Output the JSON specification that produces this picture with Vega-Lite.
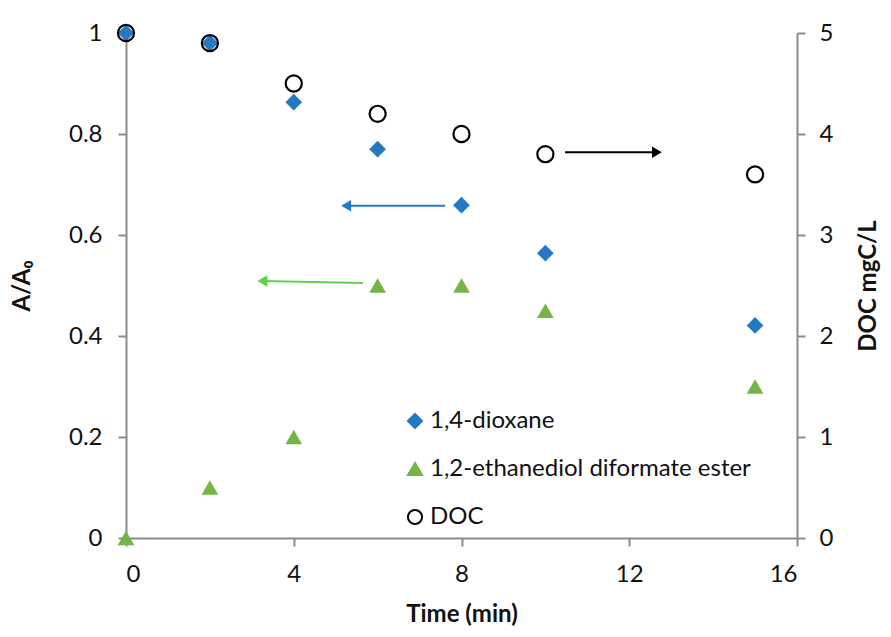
{
  "$schema": "https://vega.github.io/schema/vega-lite/v6.json",
  "width": 671,
  "height": 505,
  "autosize": "none",
  "padding": {"left": 126, "top": 33, "right": 94, "bottom": 99},
  "background": "white",
  "config": {
    "font": "Lato",
    "view": {"stroke": null},
    "axis": {
      "grid": false,
      "domainColor": "#8c8c8c",
      "domainWidth": 2,
      "tickColor": "#8c8c8c",
      "tickWidth": 2,
      "tickSize": 8,
      "labelFont": "Lato",
      "labelFontSize": 24,
      "labelColor": "#111111",
      "titleFont": "Lato",
      "titleFontSize": 24,
      "titleFontWeight": "bold",
      "titleColor": "#111111"
    },
    "legend": {
      "labelFont": "Lato",
      "labelFontSize": 24,
      "labelColor": "#111111",
      "labelLimit": 0,
      "symbolSize": 200,
      "symbolStrokeWidth": 2,
      "rowPadding": 24,
      "labelOffset": 3
    }
  },
  "datasets": {
    "ratio": [
      {"series": "1,4-dioxane", "time": 0, "value": 1.0},
      {"series": "1,4-dioxane", "time": 2, "value": 0.98},
      {"series": "1,4-dioxane", "time": 4, "value": 0.863},
      {"series": "1,4-dioxane", "time": 6, "value": 0.77},
      {"series": "1,4-dioxane", "time": 8, "value": 0.659},
      {"series": "1,4-dioxane", "time": 10, "value": 0.564},
      {"series": "1,4-dioxane", "time": 15, "value": 0.421},
      {"series": "1,2-ethanediol diformate ester", "time": 0, "value": 0.0},
      {"series": "1,2-ethanediol diformate ester", "time": 2, "value": 0.1},
      {"series": "1,2-ethanediol diformate ester", "time": 4, "value": 0.2},
      {"series": "1,2-ethanediol diformate ester", "time": 6, "value": 0.5},
      {"series": "1,2-ethanediol diformate ester", "time": 8, "value": 0.5},
      {"series": "1,2-ethanediol diformate ester", "time": 10, "value": 0.45},
      {"series": "1,2-ethanediol diformate ester", "time": 15, "value": 0.3}
    ],
    "doc": [
      {"series": "DOC", "time": 0, "doc": 5.0},
      {"series": "DOC", "time": 2, "doc": 4.9},
      {"series": "DOC", "time": 4, "doc": 4.5},
      {"series": "DOC", "time": 6, "doc": 4.2},
      {"series": "DOC", "time": 8, "doc": 4.0},
      {"series": "DOC", "time": 10, "doc": 3.8},
      {"series": "DOC", "time": 15, "doc": 3.6}
    ],
    "leftArrows": [
      {"arrow": "dioxane", "xStart": 7.61, "xEnd": 5.25, "yStart": 0.658, "yEnd": 0.658},
      {"arrow": "ester", "xStart": 5.65, "xEnd": 3.25, "yStart": 0.505, "yEnd": 0.509}
    ],
    "rightArrows": [
      {"arrow": "DOC", "xStart": 10.47, "xEnd": 12.66, "yStart": 3.82, "yEnd": 3.82}
    ]
  },
  "layer": [
    {
      "layer": [
        {
          "data": {"name": "ratio"},
          "mark": {"type": "point", "filled": true, "strokeWidth": 0, "opacity": 1},
          "encoding": {
            "x": {"field": "time", "type": "quantitative", "scale": {"domain": [0, 16], "nice": false},
                  "axis": {"values": [0, 4, 8, 12, 16], "title": "Time (min)", "labelPadding": 16, "titlePadding": 16}},
            "y": {"field": "value", "type": "quantitative", "scale": {"domain": [0, 1], "nice": false},
                  "axis": {"orient": "left", "values": [0, 0.2, 0.4, 0.6, 0.8, 1], "format": "~g", "title": "A/A₀", "labelPadding": 16, "titlePadding": 34}},
            "shape": {"field": "series", "type": "nominal",
                      "scale": {"domain": ["1,4-dioxane", "1,2-ethanediol diformate ester", "DOC"], "range": ["diamond", "triangle-up", "circle"]},
                      "legend": {"title": null, "orient": "none", "legendX": 277, "legendY": 376}},
            "fill": {"field": "series", "type": "nominal",
                     "scale": {"domain": ["1,4-dioxane", "1,2-ethanediol diformate ester", "DOC"], "range": ["#2479c1", "#77b446", "transparent"]},
                     "legend": {"title": null, "orient": "none", "legendX": 277, "legendY": 376}},
            "stroke": {"field": "series", "type": "nominal",
                     "scale": {"domain": ["1,4-dioxane", "1,2-ethanediol diformate ester", "DOC"], "range": ["#2479c1", "#77b446", "#000000"]},
                     "legend": {"title": null, "orient": "none", "legendX": 277, "legendY": 376}},
            "size": {"value": 280}
          }
        },
        {
          "data": {"name": "leftArrows"},
          "mark": {"type": "rule", "strokeWidth": 2},
          "encoding": {
            "x": {"field": "xStart", "type": "quantitative"},
            "x2": {"field": "xEnd"},
            "y": {"field": "yStart", "type": "quantitative"},
            "y2": {"field": "yEnd"},
            "color": {"field": "arrow", "type": "nominal", "scale": {"domain": ["dioxane", "ester"], "range": ["#1f7ac8", "#5fd24a"]}, "legend": null}
          }
        },
        {
          "data": {"name": "leftArrows"},
          "mark": {"type": "point", "shape": "triangle-left", "filled": true, "size": 130, "opacity": 1},
          "encoding": {
            "x": {"field": "xEnd", "type": "quantitative"},
            "y": {"field": "yEnd", "type": "quantitative"},
            "color": {"field": "arrow", "type": "nominal", "scale": {"domain": ["dioxane", "ester"], "range": ["#1f7ac8", "#5fd24a"]}, "legend": null}
          }
        }
      ]
    },
    {
      "layer": [
        {
          "data": {"name": "doc"},
          "mark": {"type": "point", "filled": true, "strokeWidth": 2.2, "opacity": 1},
          "encoding": {
            "x": {"field": "time", "type": "quantitative", "scale": {"domain": [0, 16], "nice": false},
                  "axis": {"values": [0, 4, 8, 12, 16], "title": "Time (min)", "labelPadding": 16, "titlePadding": 16}},
            "y": {"field": "doc", "type": "quantitative", "scale": {"domain": [0, 5], "nice": false},
                  "axis": {"orient": "right", "values": [0, 1, 2, 3, 4, 5], "format": "d", "title": "DOC mgC/L", "titleAngle": 270, "labelPadding": 14, "titlePadding": 48}},
            "shape": {"field": "series", "type": "nominal",
                      "scale": {"domain": ["1,4-dioxane", "1,2-ethanediol diformate ester", "DOC"], "range": ["diamond", "triangle-up", "circle"]},
                      "legend": {"title": null, "orient": "none", "legendX": 277, "legendY": 376}},
            "fill": {"field": "series", "type": "nominal",
                     "scale": {"domain": ["1,4-dioxane", "1,2-ethanediol diformate ester", "DOC"], "range": ["#2479c1", "#77b446", "transparent"]},
                     "legend": {"title": null, "orient": "none", "legendX": 277, "legendY": 376}},
            "stroke": {"field": "series", "type": "nominal",
                     "scale": {"domain": ["1,4-dioxane", "1,2-ethanediol diformate ester", "DOC"], "range": ["#2479c1", "#77b446", "#000000"]},
                     "legend": {"title": null, "orient": "none", "legendX": 277, "legendY": 376}},
            "size": {"value": 260}
          }
        },
        {
          "data": {"name": "rightArrows"},
          "mark": {"type": "rule", "strokeWidth": 2, "color": "#000000"},
          "encoding": {
            "x": {"field": "xStart", "type": "quantitative"},
            "x2": {"field": "xEnd"},
            "y": {"field": "yStart", "type": "quantitative"},
            "y2": {"field": "yEnd"}
          }
        },
        {
          "data": {"name": "rightArrows"},
          "mark": {"type": "point", "shape": "triangle-right", "filled": true, "size": 130, "color": "#000000", "opacity": 1},
          "encoding": {
            "x": {"field": "xEnd", "type": "quantitative"},
            "y": {"field": "yEnd", "type": "quantitative"}
          }
        }
      ]
    }
  ],
  "resolve": {"scale": {"y": "independent"}}
}
